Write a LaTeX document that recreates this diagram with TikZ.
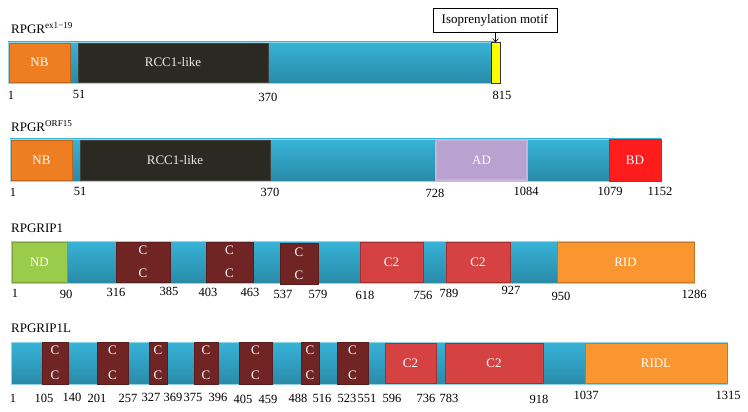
\documentclass[tikz,border=0pt]{standalone}
\usepackage{fontspec}
\setmainfont{Liberation Serif}
\usetikzlibrary{arrows.meta}
\definecolor{barblue}{HTML}{37B3D8}
\definecolor{bardark}{HTML}{2A8AA8}
\definecolor{nbor}{HTML}{EF7D22}
\definecolor{rccblk}{HTML}{2B2A22}
\definecolor{adlav}{HTML}{B9A2D0}
\definecolor{bdred}{HTML}{FF1C1C}
\definecolor{ndgrn}{HTML}{9BCB4B}
\definecolor{ccmar}{HTML}{702424}
\definecolor{ctwo}{HTML}{D64242}
\definecolor{ridor}{HTML}{F9962F}
\definecolor{isoyel}{HTML}{FFFF00}
\newcommand\domfs{\fontsize{13}{15}\selectfont}
\newcommand\numfs{\fontsize{12.5}{14}\selectfont}
\newcommand\seg[7]{\node[#6, minimum width={(#2-#1)*1pt}, minimum height={(#4-#3)*1pt}] (#5) at ({(#1+#2)/2},{(#3+#4)/2}) {#7};}
\tikzset{
  x=1pt, y=-1pt,
  barstyle/.style={inner sep=0pt, outer sep=0pt, top color=barblue, bottom color=bardark, draw=barblue!55!white, line width=0.6pt},
  dom/.style={inner sep=0pt, outer sep=0pt, text=white, font=\domfs, line width=0.6pt},
  nbbox/.style={dom, fill=nbor, draw=nbor!80!black},
  rccbox/.style={dom, fill=rccblk, draw=rccblk!70!gray, text=white!92!black},
  adbox/.style={dom, fill=adlav, draw=adlav!80!white, line width=1.5pt},
  bdbox/.style={dom, fill=bdred, draw=bdred!90!black},
  ndbox/.style={dom, fill=ndgrn, draw=ndgrn!80!black},
  ccbox/.style={dom, fill=ccmar, draw=ccmar!80!black, align=center},
  c2box/.style={dom, fill=ctwo, draw=ctwo!75!black},
  ridbox/.style={dom, fill=ridor, draw=ridor!80!black},
  yelbox/.style={dom, fill=isoyel, draw=black!80, line width=0.6pt},
  num/.style={inner sep=0pt, font=\numfs, text=black},
  title/.style={inner sep=0pt, anchor=west, font=\domfs, text=black},
  callout/.style={draw=black, line width=0.6pt, fill=white, font=\domfs, inner sep=0pt, minimum width=124pt, minimum height=24pt}
}
\begin{document}
\begin{tikzpicture}
\useasboundingbox (0,0) rectangle (748,412);
\fill[white] (0,0) rectangle (748,412);

% ---------------- Row 1: RPGR ex1-19
\node[title] (t1) at (11,28) {RPGR\textsuperscript{ex1−19}};
\seg{8}{496}{42}{83}{bar1}{barstyle}{}
\seg{9}{70}{43}{82}{nb1}{nbbox}{NB}
\seg{78}{268}{43}{82}{rcc1}{rccbox}{RCC1-like}
\seg{491}{500}{42}{83}{yel}{yelbox}{}
\node[callout] (iso) at (495,20) {Isoprenylation motif};
\draw[-{Straight Barb[length=3pt,width=6pt]}, line width=0.6pt] (iso.south -| yel.north) -- (yel.north);
\node[num] (n1a) at (11,95) {1};
\node[num] (n1b) at (79,94) {51};
\node[num] (n1c) at (268,97) {370};
\node[num] (n1d) at (502,95) {815};

% ---------------- Row 2: RPGR ORF15
\node[title] (t2) at (11,126) {RPGR\textsuperscript{ORF15}};
\seg{10}{661}{139}{181}{bar2}{barstyle}{}
\seg{11}{72}{140}{180}{nb2}{nbbox}{NB}
\seg{80}{270}{140}{180}{rcc2}{rccbox}{RCC1-like}
\seg{436}{527}{140}{180}{ad2}{adbox}{AD}
\seg{609}{661}{139}{181}{bd2}{bdbox}{BD}
\node[num] (n2a) at (13,192) {1};
\node[num] (n2b) at (80,191) {51};
\node[num] (n2c) at (270,192) {370};
\node[num] (n2d) at (435,193) {728};
\node[num] (n2e) at (526,191) {1084};
\node[num] (n2f) at (610,191) {1079};
\node[num] (n2g) at (660,191) {1152};

% ---------------- Row 3: RPGRIP1
\node[title] (t3) at (11,228) {RPGRIP1};
\seg{11}{694}{241}{283}{bar3}{barstyle}{}
\seg{12}{67}{242}{282}{nd3}{ndbox}{ND}
\seg{116}{170}{242}{282}{cc3a}{ccbox}{C\\[8pt]C}
\seg{206}{253}{242}{282}{cc3b}{ccbox}{C\\[8pt]C}
\seg{280}{318}{243}{284}{cc3c}{ccbox}{C\\[8pt]C}
\seg{360}{423}{242}{282}{c23a}{c2box}{C2}
\seg{446}{510}{242}{282}{c23b}{c2box}{C2}
\seg{557}{694}{242}{282}{rid3}{ridbox}{RID}
\node[num] (n3a) at (15,293) {1};
\node[num] (n3b) at (66,294) {90};
\node[num] (n3c) at (116,292) {316};
\node[num] (n3d) at (169,291) {385};
\node[num] (n3e) at (208,292) {403};
\node[num] (n3f) at (250,292) {463};
\node[num] (n3g) at (283,294) {537};
\node[num] (n3h) at (318,294) {579};
\node[num] (n3i) at (365,295) {618};
\node[num] (n3j) at (423,295) {756};
\node[num] (n3k) at (449,293) {789};
\node[num] (n3l) at (511,290) {927};
\node[num] (n3m) at (561,296) {950};
\node[num] (n3n) at (694,294) {1286};

% ---------------- Row 4: RPGRIP1L
\node[title] (t4) at (11,328) {RPGRIP1L};
\seg{11}{727}{342}{384}{bar4}{barstyle}{}
\seg{42}{68}{342}{384}{cc4a}{ccbox}{C\\[10pt]C}
\seg{97}{128}{342}{384}{cc4b}{ccbox}{C\\[10pt]C}
\seg{149}{167}{342}{384}{cc4c}{ccbox}{C\\[10pt]C}
\seg{194}{218}{342}{384}{cc4d}{ccbox}{C\\[10pt]C}
\seg{239}{272}{342}{384}{cc4e}{ccbox}{C\\[10pt]C}
\seg{301}{319}{342}{384}{cc4f}{ccbox}{C\\[10pt]C}
\seg{337}{368}{342}{384}{cc4g}{ccbox}{C\\[10pt]C}
\seg{385}{436}{343}{383}{c24a}{c2box}{C2}
\seg{445}{543}{343}{383}{c24b}{c2box}{C2}
\seg{585}{727}{343}{383}{rid4}{ridbox}{RIDL}
\node[num] (n4a) at (13,398) {1};
\node[num] (n4b) at (44,398) {105};
\node[num] (n4c) at (72,397) {140};
\node[num] (n4d) at (97,398) {201};
\node[num] (n4e) at (128,398) {257};
\node[num] (n4f) at (151,397) {327};
\node[num] (n4g) at (173,397) {369};
\node[num] (n4h) at (193,397) {375};
\node[num] (n4i) at (218,397) {396};
\node[num] (n4j) at (243,399) {405};
\node[num] (n4k) at (268,399) {459};
\node[num] (n4l) at (298,398) {488};
\node[num] (n4m) at (322,398) {516};
\node[num] (n4n) at (347,398) {523};
\node[num] (n4o) at (367,398) {551};
\node[num] (n4p) at (392,398) {596};
\node[num] (n4q) at (426,398) {736};
\node[num] (n4r) at (449,398) {783};
\node[num] (n4s) at (539,399) {918};
\node[num] (n4t) at (586,395) {1037};
\node[num] (n4u) at (728,395) {1315};
\end{tikzpicture}
\end{document}
